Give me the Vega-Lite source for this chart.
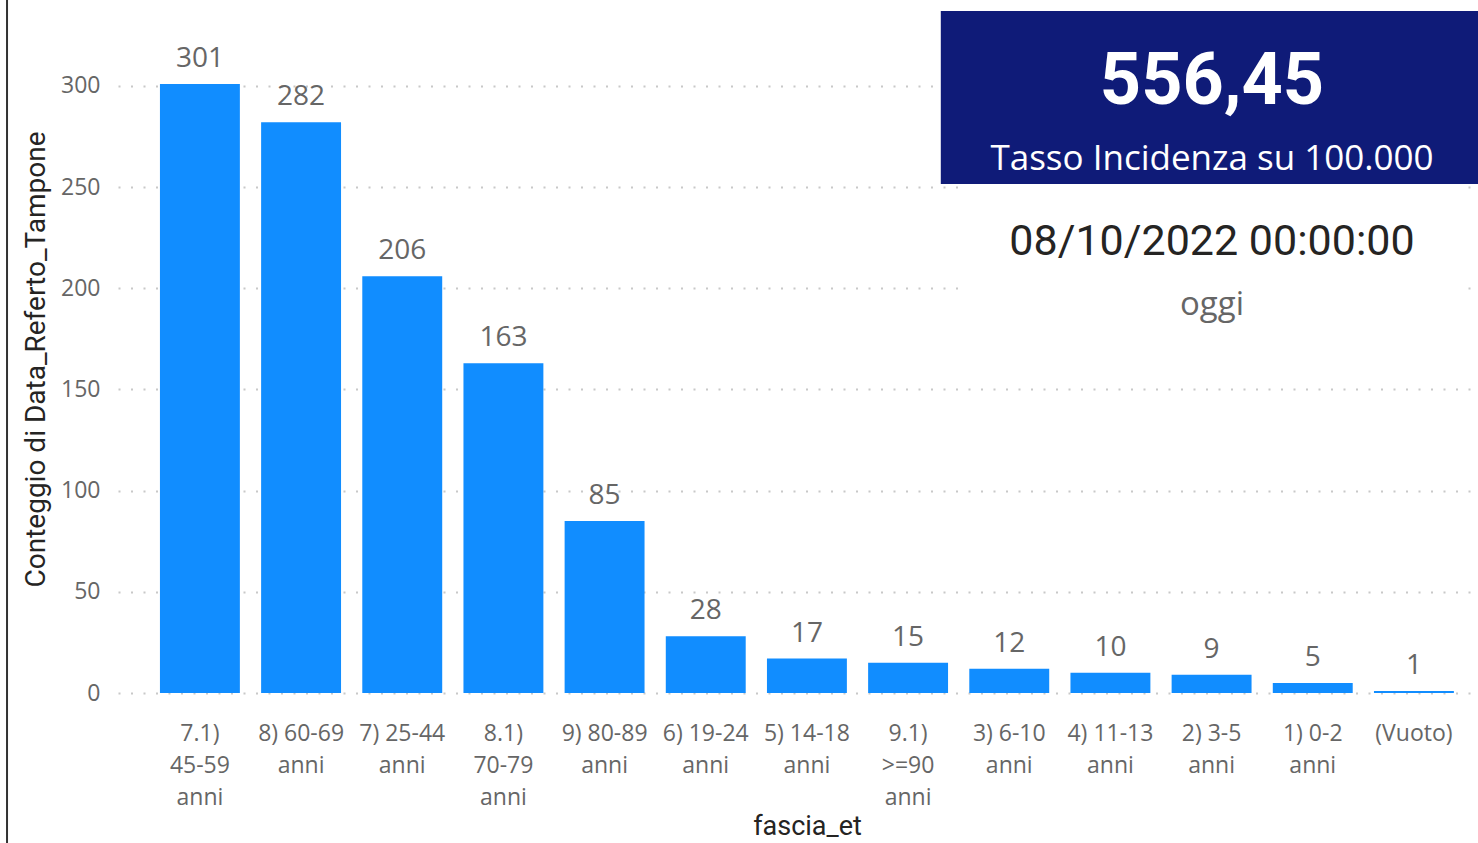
{
  "$schema": "https://vega.github.io/schema/vega-lite/v6.json",
  "autosize": {"type": "none"},
  "width": 1360,
  "height": 688,
  "padding": {"left": 118, "top": 5, "right": 0, "bottom": 150},
  "background": "white",
  "config": {
    "view": {"stroke": null},
    "font": "Open Sans"
  },
  "datasets": {
    "bars": [
      {"fascia_et": "7.1) 45-59 anni", "conteggio": 301},
      {"fascia_et": "8) 60-69 anni", "conteggio": 282},
      {"fascia_et": "7) 25-44 anni", "conteggio": 206},
      {"fascia_et": "8.1) 70-79 anni", "conteggio": 163},
      {"fascia_et": "9) 80-89 anni", "conteggio": 85},
      {"fascia_et": "6) 19-24 anni", "conteggio": 28},
      {"fascia_et": "5) 14-18 anni", "conteggio": 17},
      {"fascia_et": "9.1) >=90 anni", "conteggio": 15},
      {"fascia_et": "3) 6-10 anni", "conteggio": 12},
      {"fascia_et": "4) 11-13 anni", "conteggio": 10},
      {"fascia_et": "2) 3-5 anni", "conteggio": 9},
      {"fascia_et": "1) 0-2 anni", "conteggio": 5},
      {"fascia_et": "(Vuoto)", "conteggio": 1}
    ],
    "card": [
      {"valore": "556,45", "etichetta": "Tasso Incidenza su 100.000", "data": "08/10/2022 00:00:00", "nota": "oggi"}
    ]
  },
  "layer": [
    {
      "data": {"name": "bars"},
      "layer": [
        {
          "mark": {"type": "bar", "color": "#118DFF"},
          "encoding": {
            "x": {
              "field": "fascia_et",
              "type": "nominal",
              "sort": null,
              "scale": {"paddingInner": 0.21, "paddingOuter": 0.3265, "align": 0.635},
              "axis": {
                "title": "fascia_et",
                "titleFont": "Roboto",
                "titleFontSize": 27,
                "titleFontWeight": "normal",
                "titleColor": "#252423",
                "titlePadding": 4,
                "titleX": 689,
                "labelAngle": 0,
                "labelFont": "Open Sans",
                "labelFontSize": 23,
                "labelColor": "#666666",
                "labelLineHeight": 32,
                "labelPadding": 29,
                "labelBaseline": "top",
                "ticks": false,
                "domain": false,
                "grid": false,
                "labelExpr": "datum.value == '(Vuoto)' ? '(Vuoto)' : (indexof(datum.value, '.') > 0 ? split(datum.value, ' ') : [replace(datum.value, ' anni', ''), 'anni'])"
              }
            },
            "y": {
              "field": "conteggio",
              "type": "quantitative",
              "scale": {"domain": [0, 340], "nice": false},
              "axis": {
                "title": "Conteggio di Data_Referto_Tampone",
                "titleFont": "Roboto",
                "titleFontSize": 28,
                "titleFontWeight": "normal",
                "titleColor": "#252423",
                "titlePadding": 10,
                "titleY": 354,
                "values": [0, 50, 100, 150, 200, 250, 300],
                "labelFont": "Open Sans",
                "labelFontSize": 23,
                "labelColor": "#666666",
                "labelPadding": 18,
                "ticks": false,
                "domain": false,
                "grid": true,
                "gridColor": "#C8C8C8",
                "gridWidth": 2,
                "gridDash": [2, 10.5]
              }
            }
          }
        },
        {
          "mark": {"type": "text", "baseline": "alphabetic", "dy": -17, "fontSize": 28, "color": "#666666", "font": "Open Sans"},
          "encoding": {
            "x": {"field": "fascia_et", "type": "nominal", "sort": null},
            "y": {"field": "conteggio", "type": "quantitative"},
            "text": {"field": "conteggio", "type": "quantitative"}
          }
        }
      ]
    },
    {
      "data": {"name": "card"},
      "layer": [
        {
          "mark": {"type": "rect", "color": "white"},
          "encoding": {
            "x": {"datum": 0.62, "type": "quantitative", "scale": {"domain": [0, 1], "nice": false}, "axis": null},
            "x2": {"datum": 0.992},
            "y": {"datum": 251.5, "type": "quantitative"},
            "y2": {"datum": 172}
          }
        },
        {
          "mark": {"type": "rect", "color": "#0F1B78"},
          "encoding": {
            "x": {"datum": 0.605, "type": "quantitative"},
            "x2": {"datum": 1.0},
            "y": {"datum": 337, "type": "quantitative"},
            "y2": {"datum": 251.5}
          }
        },
        {
          "mark": {"type": "rule", "color": "#333333", "strokeWidth": 2},
          "encoding": {
            "x": {"datum": -0.0816, "type": "quantitative"},
            "y": {"datum": 345, "type": "quantitative"},
            "y2": {"datum": -76}
          }
        },
        {
          "mark": {"type": "text", "font": "Roboto", "fontWeight": "bold", "fontSize": 72, "color": "white", "baseline": "middle", "align": "center"},
          "encoding": {
            "x": {"datum": 0.8044, "type": "quantitative"},
            "y": {"datum": 302, "type": "quantitative"},
            "text": {"field": "valore"}
          }
        },
        {
          "mark": {"type": "text", "font": "Open Sans", "fontSize": 35, "color": "white", "baseline": "middle", "align": "center"},
          "encoding": {
            "x": {"datum": 0.8044, "type": "quantitative"},
            "y": {"datum": 264, "type": "quantitative"},
            "text": {"field": "etichetta"}
          }
        },
        {
          "mark": {"type": "text", "font": "Roboto", "fontSize": 43, "color": "#252423", "baseline": "middle", "align": "center"},
          "encoding": {
            "x": {"datum": 0.8044, "type": "quantitative"},
            "y": {"datum": 223, "type": "quantitative"},
            "text": {"field": "data"}
          }
        },
        {
          "mark": {"type": "text", "font": "Open Sans", "fontSize": 33, "color": "#666666", "baseline": "middle", "align": "center"},
          "encoding": {
            "x": {"datum": 0.8044, "type": "quantitative"},
            "y": {"datum": 191.5, "type": "quantitative"},
            "text": {"field": "nota"}
          }
        }
      ]
    }
  ],
  "resolve": {"scale": {"x": "independent"}}
}
